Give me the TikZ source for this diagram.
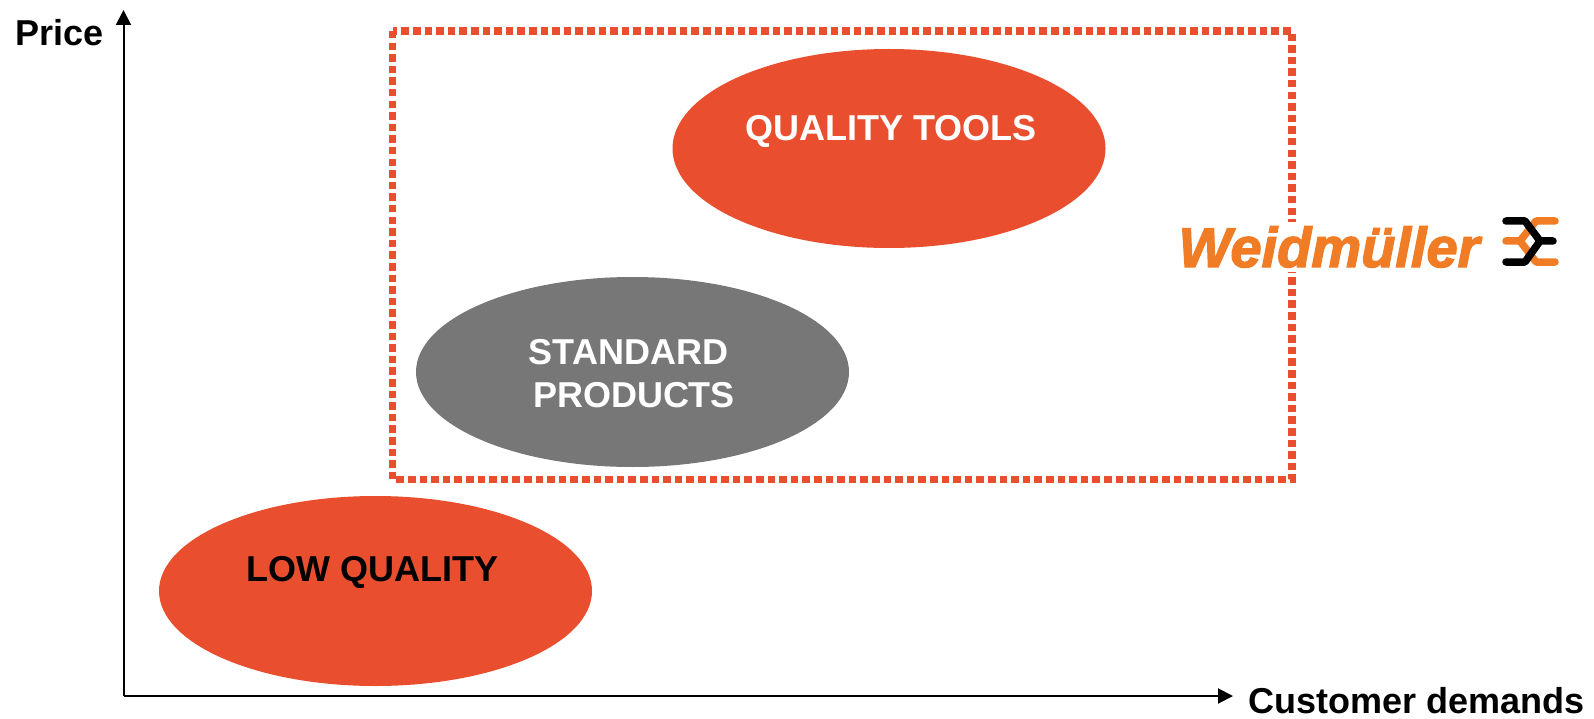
\documentclass[tikz,border=0pt]{standalone}
\usepackage{fontspec}
\setmainfont{Liberation Sans}
\newfontfamily\logofont[FakeBold=2.5]{Liberation Sans}
\usepackage{color}
\usetikzlibrary{arrows.meta,positioning,shapes.geometric}
\definecolor{redorange}{HTML}{E94F2E}
\definecolor{logoorange}{HTML}{F07D26}
\definecolor{midgray}{HTML}{777777}
\tikzset{
  blob/.style={ellipse,fill=#1,inner sep=0pt,minimum width=433pt,minimum height=190pt},
  caption/.style={font=\fontsize{36}{43}\selectfont\bfseries,inner sep=0pt},
  axis/.style={line width=2pt,-{Triangle[width=15pt,length=15pt]}},
  logoline/.style={line width=7.5pt,line cap=round,line join=round}
}
\begin{document}
\begin{tikzpicture}[x=1pt,y=-1pt,node distance=17pt,on grid]
    \useasboundingbox (0,0) rectangle (1594,719);
    % market box
    \draw[redorange,line width=7.5pt,dash pattern=on 7.5pt off 4.1pt] (392.5,31) rectangle (1292,479.5);
    \node[blob=redorange,minimum height=199pt] (Q) at (889,148.5) {};
    \node[blob=midgray] (S) at (632.5,372) {};
    \node[blob=redorange] (L) at (375.5,591) {};
    \node[caption,white] (QT) [above = of Q,xshift=2pt] {QUALITY TOOLS};
    \node[caption,white,align=center] (ST) [below = 1.5pt of S,xshift=1.5pt] {STANDARD\hspace*{11pt}\\PRODUCTS};
    \node[caption] (LT) [above = 19pt of L,xshift=-3pt] {LOW QUALITY};
    % axes
    \coordinate (O) at (123.5,696);
    \coordinate (Y) at (123.5,10);
    \coordinate (X) at (1233,696);
    \draw[axis] (O) -- (Y);
    \draw[axis] (O) -- (X);
    \node[caption,anchor=east] (P) at (103.5,33) {Price};
    \node[caption,anchor=west] (D) at (1248,701) {Customer demands};
    % logo
    \node[fill=white,text=logoorange,inner sep=0pt,minimum height=50pt,font=\fontsize{56}{56}\selectfont\logofont\bfseries\itshape] (W) at (1329,247) {Weidmüller};
    \draw[logoline,logoorange] (1555,221) -- (1536,221) -- (1520,241) -- (1506,241)
    (1520,241) -- (1536,262) -- (1555,262);
    \draw[logoline,black] (1506,221) -- (1525,221) -- (1540,241) -- (1553,241)
    (1540,241) -- (1525,262) -- (1506,262);
  \end{tikzpicture}
\end{document}
